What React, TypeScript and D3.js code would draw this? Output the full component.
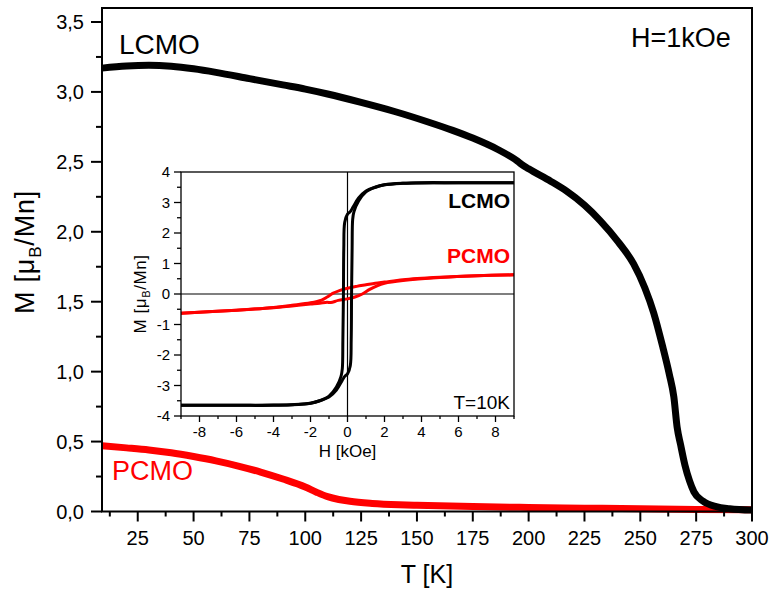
import React from 'react';
import * as d3 from 'd3';

// main panel: M(T) at H = 1 kOe
const tLCMO = [9, 20, 30, 40, 50, 60, 75, 90, 100, 110, 125, 140, 155, 166, 175, 186, 195, 197, 200, 210, 217, 225, 232, 240, 247, 252, 256, 260, 263, 265, 266.5, 268, 270, 272, 274, 278, 284, 290, 300];
const mLCMO = [3.17, 3.185, 3.19, 3.183, 3.165, 3.14, 3.095, 3.05, 3.02, 2.985, 2.925, 2.86, 2.785, 2.725, 2.67, 2.59, 2.505, 2.48, 2.45, 2.36, 2.29, 2.19, 2.08, 1.93, 1.77, 1.6, 1.42, 1.18, 0.98, 0.82, 0.6, 0.48, 0.33, 0.22, 0.14, 0.075, 0.035, 0.02, 0.01];
const tPCMO = [9, 20, 30, 40, 50, 60, 70, 80, 90, 100, 105, 110, 115, 120, 130, 142, 150, 175, 200, 225, 250, 275, 300];
const mPCMO = [0.47, 0.455, 0.44, 0.42, 0.393, 0.362, 0.325, 0.282, 0.232, 0.175, 0.138, 0.106, 0.086, 0.073, 0.058, 0.048, 0.044, 0.035, 0.029, 0.024, 0.019, 0.015, 0.012];

// inset: hysteresis at T = 10 K, descending branch (+H -> -H); LCMO ascending branch is its mirror
const hLCMOdown = [9, 6, 4, 3, 2, 1.5, 1, 0.6, 0.3, 0.15, 0, -0.15, -0.2, -0.22, -0.25, -0.28, -0.35, -0.6, -1, -1.5, -2, -3, -4, -6, -9];
const mLCMOdown = [3.65, 3.65, 3.64, 3.63, 3.58, 3.5, 3.38, 3.15, 2.85, 2.7, 2.62, 2.35, 1.5, 0, -1.5, -2.45, -2.7, -3.05, -3.35, -3.5, -3.58, -3.63, -3.65, -3.65, -3.65];
const hPCMOdown = [9, 7, 5, 3, 2, 1.5, 1, 0.5, 0, -0.4, -0.8, -1.1, -1.4, -2, -3, -4, -6, -9];
const mPCMOdown = [0.63, 0.6, 0.55, 0.47, 0.39, 0.35, 0.3, 0.25, 0.19, 0.12, 0.02, -0.1, -0.2, -0.29, -0.37, -0.44, -0.53, -0.63];
const hPCMOup = [-9, -6, -4, -3, -2, -1.5, -1.1, -0.9, -0.5, 0, 0.4, 0.8, 1.2, 1.6, 2, 3, 5, 7, 9];
const mPCMOup = [-0.63, -0.53, -0.45, -0.39, -0.33, -0.3, -0.27, -0.28, -0.21, -0.16, -0.1, 0.0, 0.15, 0.27, 0.35, 0.44, 0.54, 0.6, 0.63];

const xTicks = [25, 50, 75, 100, 125, 150, 175, 200, 225, 250, 275, 300];
const yTicks = [0, 0.5, 1, 1.5, 2, 2.5, 3, 3.5];
const hTicks = [-8, -6, -4, -2, 0, 2, 4, 6, 8];
const mTicks = [-4, -3, -2, -1, 0, 1, 2, 3, 4];

const FONT = 'Liberation Sans, Arial, Helvetica, sans-serif';
const RED = '#ff0000';

const fmtY = (v: number) => d3.format('.1f')(v).replace('.', ',');
const zip = (a: number[], b: number[]) => a.map((v, i) => [v, b[i]] as [number, number]);

export default function App() {
  const W = 784;
  const H = 592;
  const m = { l: 102, r: 752, t: 8, b: 511.5 };

  const x = d3.scaleLinear().domain([9, 300]).range([m.l, m.r]);
  const y = d3.scaleLinear().domain([0, 3.6]).range([m.b, m.t]);

  const line = d3
    .line<[number, number]>()
    .x((d) => x(d[0]))
    .y((d) => y(d[1]))
    .curve(d3.curveMonotoneX);

  // inset frame
  const ins = { l: 181, r: 514, t: 172, b: 416 };
  const ix = d3.scaleLinear().domain([-9, 9]).range([ins.l, ins.r]);
  const iy = d3.scaleLinear().domain([-4, 4]).range([ins.b, ins.t]);
  const iline = d3
    .line<[number, number]>()
    .x((d) => ix(d[0]))
    .y((d) => iy(d[1]))
    .curve(d3.curveCatmullRom.alpha(0.5));

  const lcmoDown = zip(hLCMOdown, mLCMOdown);
  const lcmoUp = lcmoDown.map((d) => [-d[0], -d[1]] as [number, number]);

  const xMinor = d3.range(12.5, 300, 25);
  const yMinor = d3.range(0.25, 3.6, 0.5);
  const hMinor = d3.range(-9, 10, 2);
  const mMinor = d3.range(-3.5, 4, 1);

  return (
    <svg width={W} height={H} style={{ position: 'fixed', left: 0, top: 0, background: '#fff' }} fontFamily={FONT}>
      <rect x={0} y={0} width={W} height={H} fill="#fff" />

      {/* main curves */}
      <path d={line(zip(tPCMO, mPCMO)) || ''} fill="none" stroke={RED} strokeWidth={7} strokeLinejoin="round" />
      <path d={line(zip(tLCMO, mLCMO)) || ''} fill="none" stroke="#000" strokeWidth={7} strokeLinejoin="round" />

      {/* main frame */}
      <rect x={m.l} y={m.t} width={m.r - m.l} height={m.b - m.t} fill="none" stroke="#000" strokeWidth={2} />

      {/* x axis */}
      {xTicks.map((t) => (
        <g key={'xt' + t}>
          <line x1={x(t)} x2={x(t)} y1={m.b} y2={m.b + 10} stroke="#000" strokeWidth={2} />
          <text x={x(t)} y={545} fontSize={20} textAnchor="middle">{t}</text>
        </g>
      ))}
      {xMinor.map((t) => (
        <line key={'xm' + t} x1={x(t)} x2={x(t)} y1={m.b} y2={m.b + 5} stroke="#000" strokeWidth={2} />
      ))}
      <text x={(m.l + m.r) / 2} y={583} fontSize={25} textAnchor="middle">T [K]</text>

      {/* y axis */}
      {yTicks.map((t) => (
        <g key={'yt' + t}>
          <line x1={m.l - 11} x2={m.l} y1={y(t)} y2={y(t)} stroke="#000" strokeWidth={2} />
          <text x={84} y={y(t) + 7} fontSize={20} textAnchor="end">{fmtY(t)}</text>
        </g>
      ))}
      {yMinor.map((t) => (
        <line key={'ym' + t} x1={m.l - 6} x2={m.l} y1={y(t)} y2={y(t)} stroke="#000" strokeWidth={2} />
      ))}
      <text transform={`translate(34,252) rotate(-90)`} fontSize={27} letterSpacing={0.8} textAnchor="middle">
        M [μ<tspan fontSize={17} dy={7}>B</tspan><tspan dy={-7}>/Mn]</tspan>
      </text>

      {/* main labels */}
      <text x={119} y={54} fontSize={28}>LCMO</text>
      <text x={112} y={480} fontSize={27} fill={RED}>PCMO</text>
      <text x={631} y={47} fontSize={27}>H=1kOe</text>

      {/* inset */}
      <rect x={ins.l} y={ins.t} width={ins.r - ins.l} height={ins.b - ins.t} fill="#fff" />
      <line x1={ins.l} x2={ins.r} y1={iy(0)} y2={iy(0)} stroke="#000" strokeWidth={1.2} />
      <line x1={ix(0)} x2={ix(0)} y1={ins.t} y2={ins.b} stroke="#000" strokeWidth={1.2} />
      <path d={iline(zip(hPCMOdown, mPCMOdown)) || ''} fill="none" stroke={RED} strokeWidth={3} />
      <path d={iline(zip(hPCMOup, mPCMOup)) || ''} fill="none" stroke={RED} strokeWidth={3} />
      <path d={iline(lcmoDown) || ''} fill="none" stroke="#000" strokeWidth={3} />
      <path d={iline(lcmoUp) || ''} fill="none" stroke="#000" strokeWidth={3} />
      <rect x={ins.l} y={ins.t} width={ins.r - ins.l} height={ins.b - ins.t} fill="none" stroke="#000" strokeWidth={1.3} />

      {hTicks.map((t) => (
        <g key={'ht' + t}>
          <line x1={ix(t)} x2={ix(t)} y1={ins.b} y2={ins.b + 6} stroke="#000" strokeWidth={1.3} />
          <text x={ix(t)} y={ins.b + 21} fontSize={15} textAnchor="middle">{t}</text>
        </g>
      ))}
      {hMinor.map((t) => (
        <line key={'hm' + t} x1={ix(t)} x2={ix(t)} y1={ins.b} y2={ins.b + 3} stroke="#000" strokeWidth={1.3} />
      ))}
      <text x={ix(0)} y={457} fontSize={17} textAnchor="middle">H [kOe]</text>

      {mTicks.map((t) => (
        <g key={'mt' + t}>
          <line x1={ins.l - 7} x2={ins.l} y1={iy(t)} y2={iy(t)} stroke="#000" strokeWidth={1.3} />
          <text x={ins.l - 11} y={iy(t) + 5} fontSize={15} textAnchor="end">{t}</text>
        </g>
      ))}
      {mMinor.map((t) => (
        <line key={'mm' + t} x1={ins.l - 4} x2={ins.l} y1={iy(t)} y2={iy(t)} stroke="#000" strokeWidth={1.3} />
      ))}
      <text transform={`translate(146,294) rotate(-90)`} fontSize={17} letterSpacing={0.6} textAnchor="middle">
        M [μ<tspan fontSize={11} dy={4}>B</tspan><tspan dy={-4}>/Mn]</tspan>
      </text>

      <text x={510} y={208} fontSize={21} fontWeight="bold" textAnchor="end">LCMO</text>
      <text x={510} y={263} fontSize={21} fontWeight="bold" textAnchor="end" fill={RED}>PCMO</text>
      <text x={510} y={409} fontSize={19} textAnchor="end">T=10K</text>
    </svg>
  );
}
